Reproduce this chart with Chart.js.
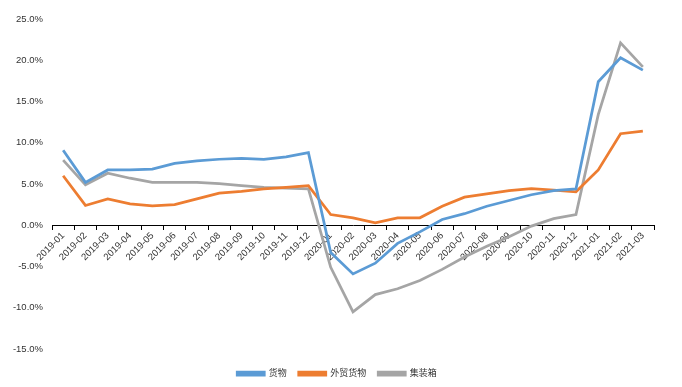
<!DOCTYPE html>
<html>
<head>
<meta charset="utf-8">
<script src="https://cdn.jsdelivr.net/npm/chart.js@4/dist/chart.umd.min.js"></script>
<style>
  html, body { margin: 0; padding: 0; background: #fff; }
  #wrap { width: 682px; height: 387px; position: relative; }
</style>
</head>
<body>
<div id="wrap"><canvas id="lineChart"></canvas></div>
<script>
/* DATA */
const months = [
    '2019-01', '2019-02', '2019-03', '2019-04', '2019-05', '2019-06', '2019-07', '2019-08', '2019-09',
    '2019-10', '2019-11', '2019-12', '2020-01', '2020-02', '2020-03', '2020-04', '2020-05', '2020-06',
    '2020-07', '2020-08', '2020-09', '2020-10', '2020-11', '2020-12', '2021-01', '2021-02', '2021-03'
];

// 货物 (%)
const cargo = [
    9.1, 5.2, 6.7, 6.7, 6.8, 7.5, 7.8, 8.0, 8.1, 8.0, 8.3, 8.8,
    -3.3, -5.9, -4.6, -2.2, -0.8, 0.7, 1.4, 2.3, 3.0, 3.7, 4.2, 4.4,
    17.4, 20.3, 18.8
];

// 外贸货物 (%)
const foreignTrade = [
    6.0, 2.4, 3.2, 2.6, 2.35, 2.5, 3.2, 3.9, 4.1, 4.4, 4.6, 4.8,
    1.3, 0.9, 0.3, 0.9, 0.9, 2.3, 3.4, 3.8, 4.2, 4.45, 4.25, 4.05,
    6.7, 11.1, 11.4
];

// 集装箱 (%)
const container = [
    7.9, 4.9, 6.3, 5.7, 5.2, 5.2, 5.2, 5.05, 4.8, 4.6, 4.5, 4.4,
    -5.1, -10.5, -8.4, -7.7, -6.7, -5.35, -3.85, -2.55, -1.4, -0.1, 0.8, 1.3,
    13.4, 22.1, 19.2
];

const seriesNames = ['货物', '外贸货物', '集装箱'];
const yTicks = [-15, -10, -5, 0, 5, 10, 15, 20, 25];

/* CHART */
const colors = ['#5B9BD5', '#ED7D31', '#A5A5A5'];
const fontFamily = '"Liberation Sans", "Noto Sans CJK SC", sans-serif';
const textColor = '#404040';

function makeDataset(label, data, color) {
    return {
        label: label,
        data: data,
        borderColor: color,
        backgroundColor: color,
        borderWidth: 2.75,
        pointRadius: 0,
        tension: 0,
        fill: false,
    };
}

// nudge the legend down/right a bit, closer to where Excel puts it
const legendShift = {
    id: 'legendShift',
    beforeDraw(chart) {
        const lg = chart.legend;
        if (!lg._shifted) {
            lg.top += 8;
            lg.bottom += 8;
            lg.left += 10;
            lg.right += 10;
            lg._shifted = true;
        }
    },
};

const ctx = document.getElementById('lineChart').getContext('2d');
const lineChart = new Chart(ctx, {
    type: 'line',
    data: {
        labels: months,
        datasets: [
            makeDataset(seriesNames[0], cargo, colors[0]),
            makeDataset(seriesNames[1], foreignTrade, colors[1]),
            makeDataset(seriesNames[2], container, colors[2]),
        ],
    },
    plugins: [legendShift],
    options: {
        responsive: true,
        maintainAspectRatio: false,
        animation: false,
        layout: {
            padding: { left: 0, right: 28, top: 19, bottom: 7 },
        },
        scales: {
            x: {
                type: 'category',
                position: { y: 0 },
                offset: true,
                grid: {
                    offset: true,
                    drawOnChartArea: false,
                    drawTicks: true,
                    tickLength: 4,
                    color: '#000',
                },
                border: { color: '#000', width: 1 },
                ticks: {
                    autoSkip: false,
                    minRotation: 45,
                    maxRotation: 45,
                    padding: 1,
                    color: '#333',
                    font: { family: fontFamily, size: 9.5 },
                },
            },
            y: {
                min: -15,
                max: 25,
                afterBuildTicks: (scale) => {
                    scale.ticks = yTicks.map(v => ({ value: v }));
                },
                afterFit: (scale) => {
                    scale.width = 52;
                },
                grid: { display: false, drawTicks: false },
                border: { display: false },
                ticks: {
                    padding: 9,
                    color: '#333',
                    font: { family: fontFamily, size: 9.5 },
                    callback: (v) => v.toFixed(1) + '%',
                },
            },
        },
        plugins: {
            legend: {
                display: true,
                position: 'bottom',
                labels: {
                    boxWidth: 27,
                    boxHeight: 3,
                    padding: 12,
                    color: '#333',
                    font: { family: fontFamily, size: 9 },
                },
            },
            tooltip: { enabled: false },
        },
    },
});
</script>
</body>
</html>
